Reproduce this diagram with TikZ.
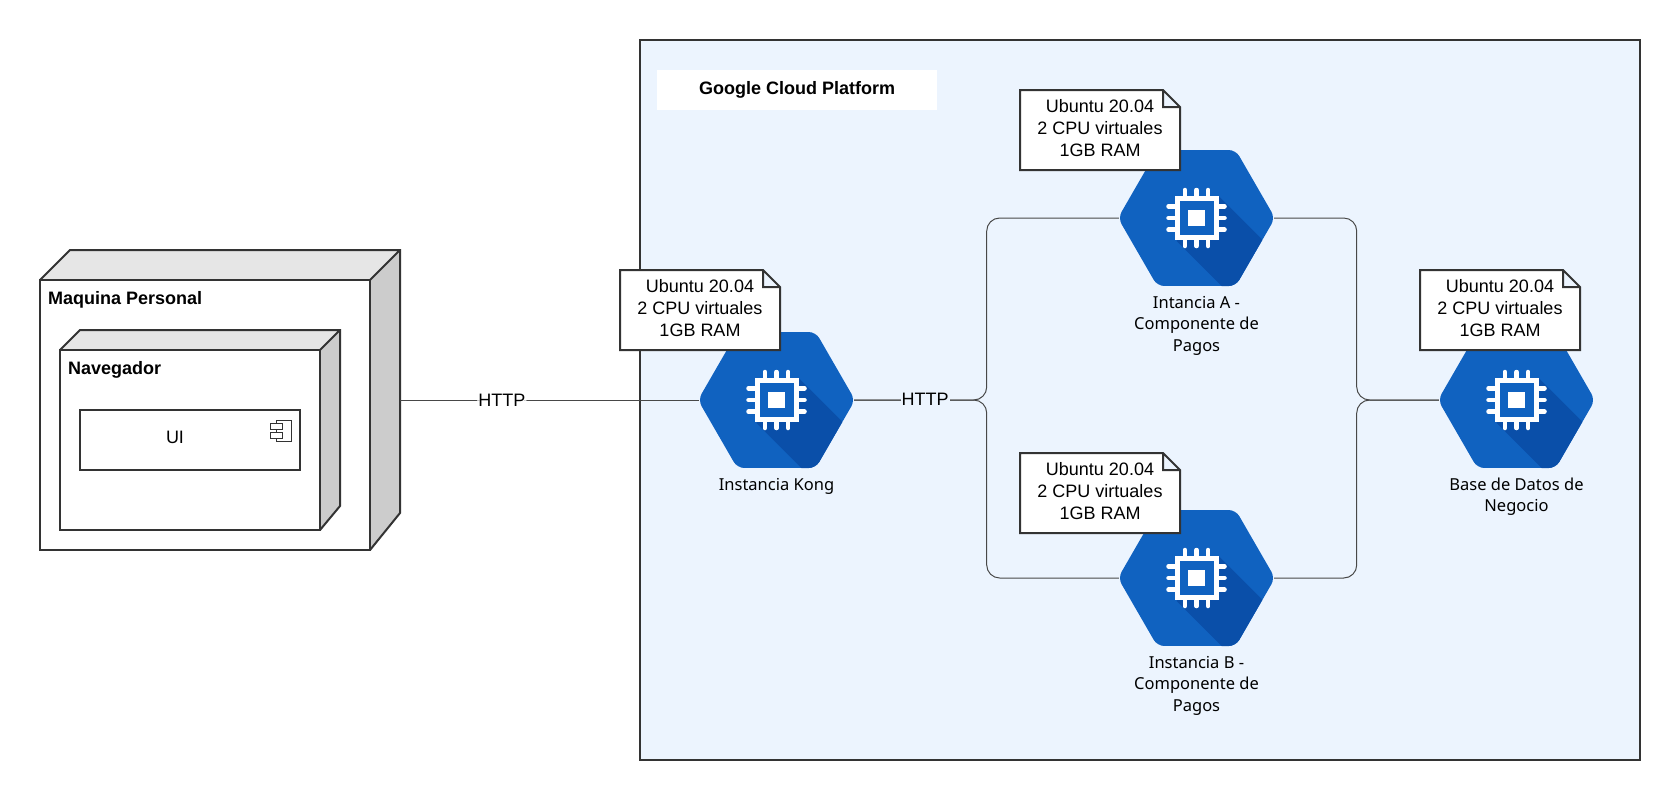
\documentclass[tikz,border=0pt]{standalone}
\usepackage{fontspec}
\setmainfont{Liberation Sans}
\newfontfamily\hexafont{Noto Sans}
\usepackage{xcolor}
\usepackage{tikz}
\usetikzlibrary{shapes.geometric,positioning}

\definecolor{gcpfill}{HTML}{ECF4FE}
\definecolor{hexblue}{HTML}{1062C0}
\definecolor{hexshade}{HTML}{0A4FA9}
\definecolor{outline}{HTML}{333333}
\definecolor{buswire}{HTML}{484848}
\definecolor{cubetop}{HTML}{E6E6E6}
\definecolor{cubeside}{HTML}{CCCCCC}

\tikzset{
  hexa/.style={regular polygon,regular polygon sides=6,
    minimum size=157pt,inner sep=0pt,fill=hexblue,rounded corners=7pt},
  hexalabel/.style={align=center,inner sep=0pt,font=\hexafont\fontsize{16.5}{21.5}\selectfont},
  boxline/.style={draw=outline,line width=2pt,line join=miter},
  notetext/.style={align=center,inner sep=0pt,font=\fontsize{18}{21.67}\selectfont},
  bus/.style={draw=buswire,line width=1pt,rounded corners=13pt,shorten <=-1pt,shorten >=-1pt},
  httplabel/.style={font=\fontsize{18}{21}\selectfont,inner sep=1pt},
  boldlabel/.style={font=\bfseries\fontsize{18}{21}\selectfont,inner sep=0pt,anchor=west}
}

% hexagon with chip icon
\newcommand{\chipnode}[3]{
  \node[hexa] (#1) at (#2) {};
  \begin{scope}[shift={(#2)}]
    \begin{scope}
      \clip[rounded corners=7pt] (78.5,0) -- (39.25,-68) -- (-39.25,-68) -- (-78.5,0) -- (-39.25,68) -- (39.25,68) -- cycle;
      \fill[hexshade] (22,-22) -- (122,78) -- (122,123) -- (80,123) -- (-20,23) -- cycle;
    \end{scope}
    \foreach \p in {-11.7,0,11.7} {
      \draw[white,line width=4.5pt,line cap=round] (\p,-28) -- (\p,28);
      \draw[white,line width=4.5pt,line cap=round] (-28,\p) -- (28,\p);
    }
    \fill[white] (-22,-22) rectangle (22,22);
    \fill[hexblue] (-17,-17) rectangle (17,17);
    \fill[white] (-8.3,-8.3) rectangle (8.3,8.3);
  \end{scope}
  \node[hexalabel,below=9.5pt of #1] (#1label) {#3};
}

% note with folded corner
\newcommand{\vmnote}[2]{
  \draw[boxline,fill=white,shift={(#2)}] (-80,-40) -- (63,-40) -- (80,-23) -- (80,40) -- (-80,40) -- cycle
    (63,-40) -- (63,-23) -- (80,-23);
  \node[notetext,yshift=2pt] (#1) at (#2) {Ubuntu 20.04\\2 CPU virtuales\\1GB RAM};
}

% deployment box: left, front top, front right, bottom, depth x, depth y, back bottom
\newcommand{\cubebox}[7]{
  \fill[cubetop] (#1,#2) -- (#1+#5,#2-#6) -- (#3+#5,#2-#6) -- (#3,#2) -- cycle;
  \fill[cubeside] (#3,#2) -- (#3+#5,#2-#6) -- (#3+#5,#7) -- (#3,#4) -- cycle;
  \draw[boxline] (#1,#2) -- (#1+#5,#2-#6) -- (#3+#5,#2-#6) -- (#3+#5,#7) -- (#3,#4) (#3,#2) -- (#3+#5,#2-#6);
  \draw[boxline,fill=white] (#1,#2) rectangle (#3,#4);
}

\begin{document}
\begin{tikzpicture}[x=1pt,y=-1pt]
  \useasboundingbox (0,0) rectangle (1679,788);

  % cloud frame
  \node[boxline,fill=gcpfill,minimum width=1000pt,minimum height=720pt,inner sep=0pt] (gcp) at (1140,400) {};
  \node[fill=white,minimum width=280pt,minimum height=40pt,inner sep=0pt,font=\bfseries\fontsize{18}{21}\selectfont] (gcptitle) at (797,90) {Google Cloud Platform};

  % local machine
  \cubebox{40}{280}{370}{550}{30}{30}{513}
  \node[minimum width=360pt,minimum height=300pt,inner sep=0pt] (maquina) at (220,400) {};
  \node[boldlabel] (maquinalabel) at (48,300) {Maquina Personal};
  \cubebox{60}{350}{320}{530}{20}{20}{506}
  \node[boldlabel] (navegador) at (68,370) {Navegador};
  \node[boxline,fill=white,minimum width=220pt,minimum height=60pt,inner sep=0pt] (ui) at (190,440) {};
  \node[font=\fontsize{18}{21}\selectfont,inner sep=0pt] (uilabel) at (175,437) {UI};
  \draw[outline,line width=.8pt,fill=white] (276,420) rectangle (291,441);
  \draw[outline,line width=.8pt,fill=white] (270,423) rectangle (282,429);
  \draw[outline,line width=.8pt,fill=white] (270,432) rectangle (282,438);

  % instances
  \chipnode{kong}{776.5,400}{Instancia Kong}
  \chipnode{insta}{1196.5,218}{Intancia A -\\Componente de\\Pagos}
  \chipnode{instb}{1196.5,578}{Instancia B -\\Componente de\\Pagos}
  \chipnode{base}{1516.5,400}{Base de Datos de\\Negocio}

  \vmnote{kongnote}{700,310}
  \vmnote{instanote}{1100,130}
  \vmnote{instbnote}{1100,493}
  \vmnote{basenote}{1500,310}

  % connectors
  \coordinate (busl) at (986.7,400);
  \coordinate (busr) at (1356.7,400);
  \draw[bus,shorten <=0pt] (maquina.east) -- node[httplabel,pos=.342,fill=white] (http1) {HTTP} (kong.west);
  \draw[bus] (kong.east) -- (busl) |- (insta.west);
  \draw[bus] (kong.east) -- (busl) |- (instb.west);
  \draw[bus] (insta.east) -| (busr) -- (base.west);
  \draw[bus] (instb.east) -| (busr) -- (base.west);
  \node[httplabel,fill=gcpfill] (http2) at (925,399) {HTTP};
\end{tikzpicture}
\end{document}
